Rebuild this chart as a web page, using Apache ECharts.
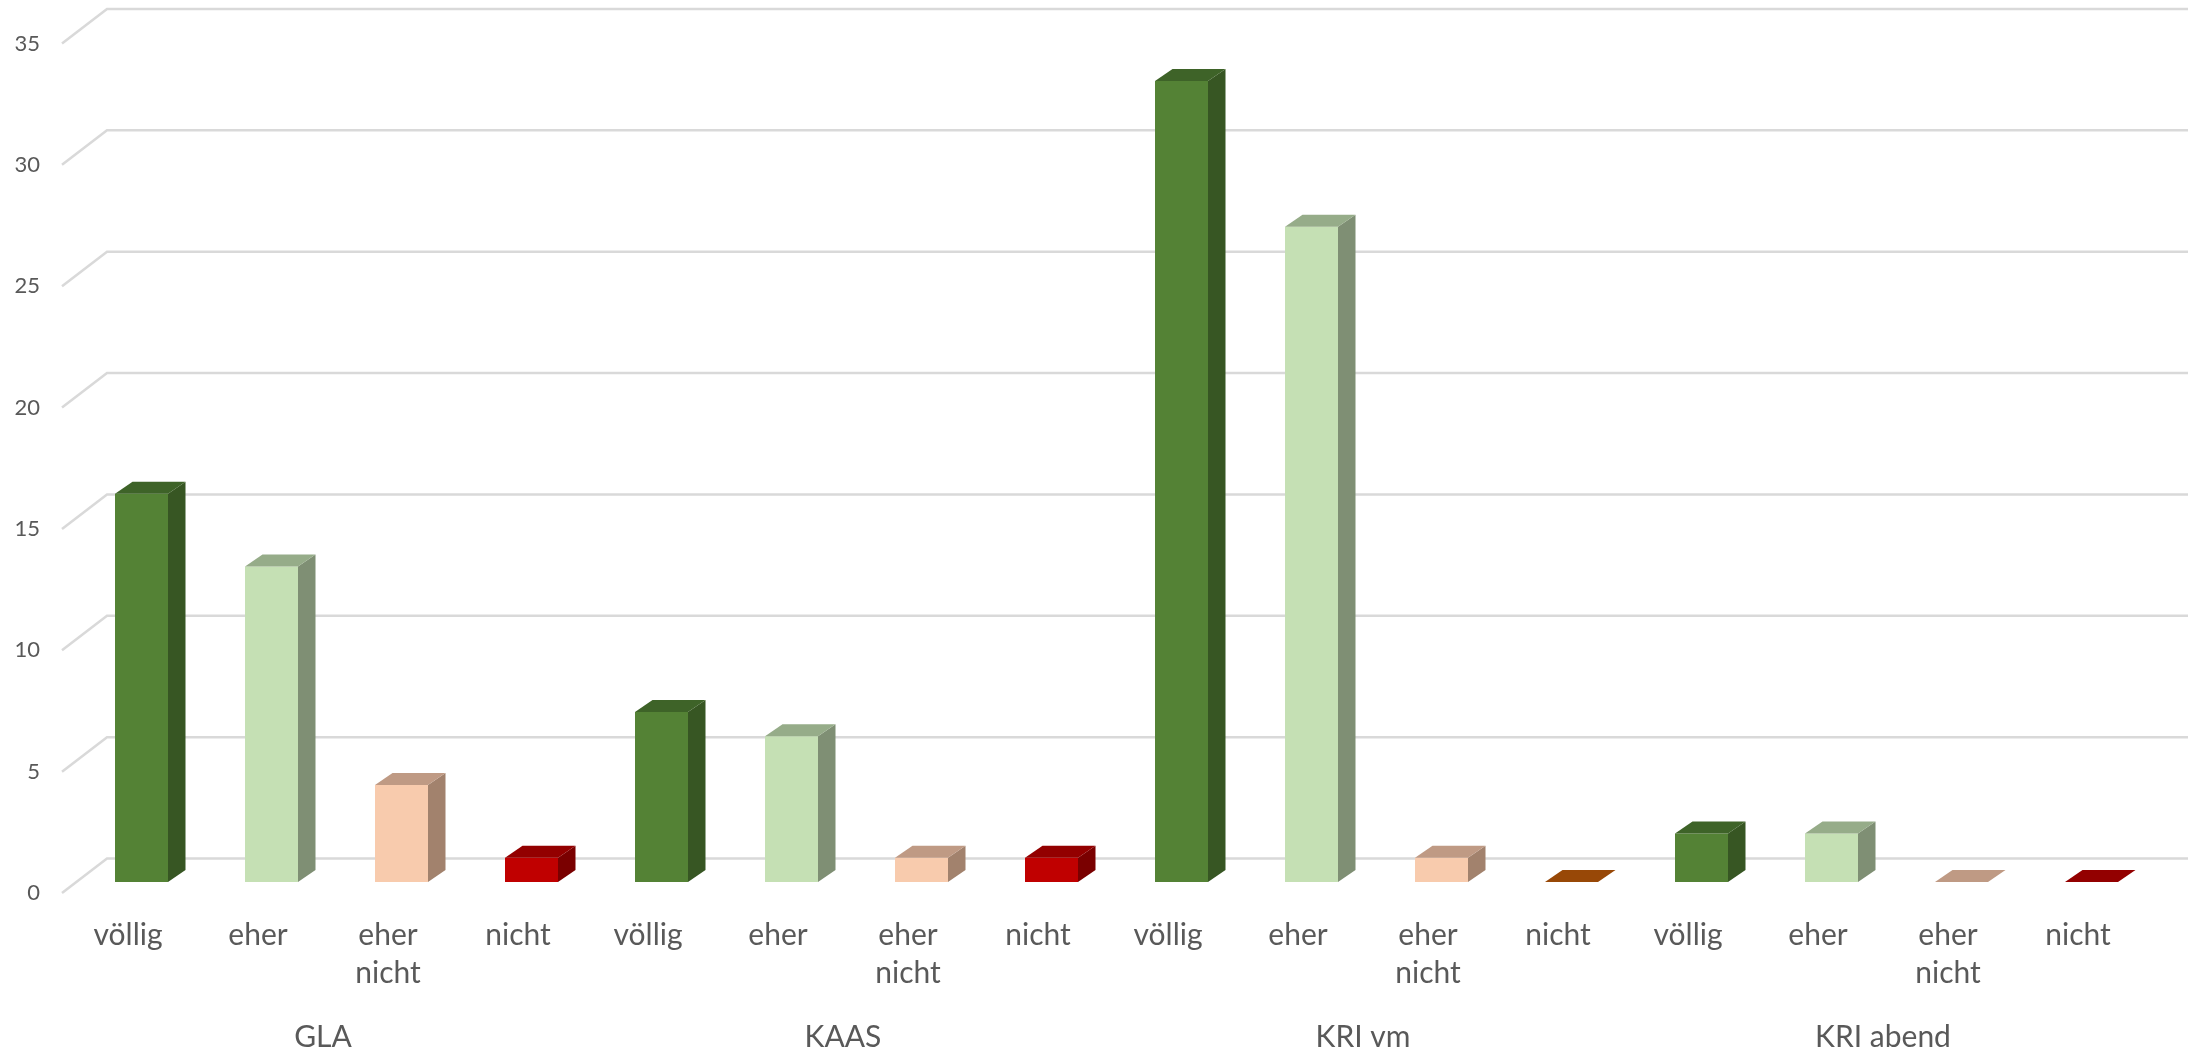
<!DOCTYPE html>
<html>
<head>
<meta charset="utf-8">
<script src="https://cdn.jsdelivr.net/npm/echarts@6/dist/echarts.min.js"></script>
<style>
html,body{margin:0;padding:0;background:#fff;}
#chart{width:2198px;height:1051px;}
</style>
</head>
<body>
<div id="chart"></div>
<script>
// ---- data ----
var responses = ['völlig', 'eher', 'eher\nnicht', 'nicht'];
var groups = ['GLA', 'KAAS', 'KRI vm', 'KRI abend'];
var GLA = [16, 13, 4, 1];
var KAAS = [7, 6, 1, 1];
var KRI_vm = [33, 27, 1, 0];
var KRI_abend = [2, 2, 0, 0];
var yTicks = [0, 5, 10, 15, 20, 25, 30, 35];

// ---- styles ----
var faceColors = {
  'völlig':      {front: '#548235', side: '#375623', top: '#3E6328'},
  'eher':        {front: '#C5E0B4', side: '#7F8F74', top: '#96AC89'},
  'eher\nnicht': {front: '#F8CBAD', side: '#A2826D', top: '#BF9A84'},
  'nicht':       {front: '#C00000', side: '#7A0000', top: '#930000'}
};
var overrideColors = { 'KRI vm|nicht': {front: '#C55A11', side: '#7F3A0B', top: '#984807'} };

var seriesByGroup = [GLA, KAAS, KRI_vm, KRI_abend];
var categories = [];
var barData = [];
groups.forEach(function (g, gi) {
  responses.forEach(function (r, ri) {
    categories.push(r);
    barData.push({value: [categories.length - 1, seriesByGroup[gi][ri]], group: g, resp: r});
  });
});

var DX = 17.5, DY = -12;       // bar depth
var BACK_DX = 45, BACK_DY = -23.5, FRONT_DY = 11; // wall offsets
var textColor = '#595959';
var font = 'Lato';

var chart = echarts.init(document.getElementById('chart'), null, {renderer: 'canvas'});
chart.setOption({
  backgroundColor: '#ffffff',
  animation: false,
  grid: [
    {left: 63, right: 55, top: 32.5, bottom: 169, containLabel: false, outerBoundsMode: 'none'},
    {left: 63, right: 55, top: 43.5, bottom: 158, containLabel: false, outerBoundsMode: 'none'}
  ],
  xAxis: [
    {type: 'category', gridIndex: 0, data: categories,
     axisLine: {show: false}, axisTick: {show: false}, splitLine: {show: false},
     axisLabel: {interval: 0, color: textColor, fontFamily: font, fontSize: 30, lineHeight: 38, margin: 34}},
    {type: 'category', gridIndex: 0, data: groups, position: 'bottom', offset: 128,
     axisLine: {show: false}, axisTick: {show: false}, splitLine: {show: false},
     axisLabel: {interval: 0, color: textColor, fontFamily: font, fontSize: 30, lineHeight: 38, margin: 8}},
    {type: 'category', gridIndex: 1, data: categories, show: false}
  ],
  yAxis: [
    {type: 'value', gridIndex: 0, min: 0, max: 35, interval: 5,
     axisLine: {show: false}, axisTick: {show: false}, splitLine: {show: false}, axisLabel: {show: false}},
    {type: 'value', gridIndex: 1, min: 0, max: 35, interval: 5,
     axisLine: {show: false}, axisTick: {show: false}, splitLine: {show: false},
     axisLabel: {color: textColor, fontFamily: font, fontSize: 22, margin: 23}}
  ],
  series: [
    {
      type: 'custom', xAxisIndex: 0, yAxisIndex: 0, z: 1,
      data: yTicks.map(function (v) { return [0, v]; }),
      renderItem: function (params, api) {
        var cs = params.coordSys;
        var y = api.coord([0, api.value(1)])[1];
        return {
          type: 'polyline',
          shape: {points: [[cs.x - 1, y + FRONT_DY], [cs.x + BACK_DX - 1, y + BACK_DY], [cs.x + cs.width + BACK_DX, y + BACK_DY]]},
          style: {stroke: '#D9D9D9', lineWidth: 2.5, fill: null}
        };
      },
      silent: true
    },
    {
      type: 'custom', xAxisIndex: 0, yAxisIndex: 0, z: 2,
      data: barData,
      renderItem: function (params, api) {
        var d = barData[params.dataIndex];
        var key = d.group + '|' + d.resp;
        var c = overrideColors[key] || faceColors[d.resp];
        var pb = api.coord([api.value(0), 0]);
        var pt = api.coord([api.value(0), api.value(1)]);
        var x0 = pb[0] - 13, x1 = pb[0] + 40, yb = pb[1], yt = pt[1];
        var children = [];
        if (api.value(1) > 0) {
          children.push({type: 'polygon', shape: {points: [[x0, yt], [x1, yt], [x1, yb], [x0, yb]]}, style: {fill: c.front}});
          children.push({type: 'polygon', shape: {points: [[x1, yt], [x1 + DX, yt + DY], [x1 + DX, yb + DY], [x1, yb]]}, style: {fill: c.side}});
        }
        children.push({type: 'polygon', shape: {points: [[x0, yt], [x0 + DX, yt + DY], [x1 + DX, yt + DY], [x1, yt]]}, style: {fill: c.top}});
        return {type: 'group', children: children};
      }
    }
  ]
});
</script>
</body>
</html>
